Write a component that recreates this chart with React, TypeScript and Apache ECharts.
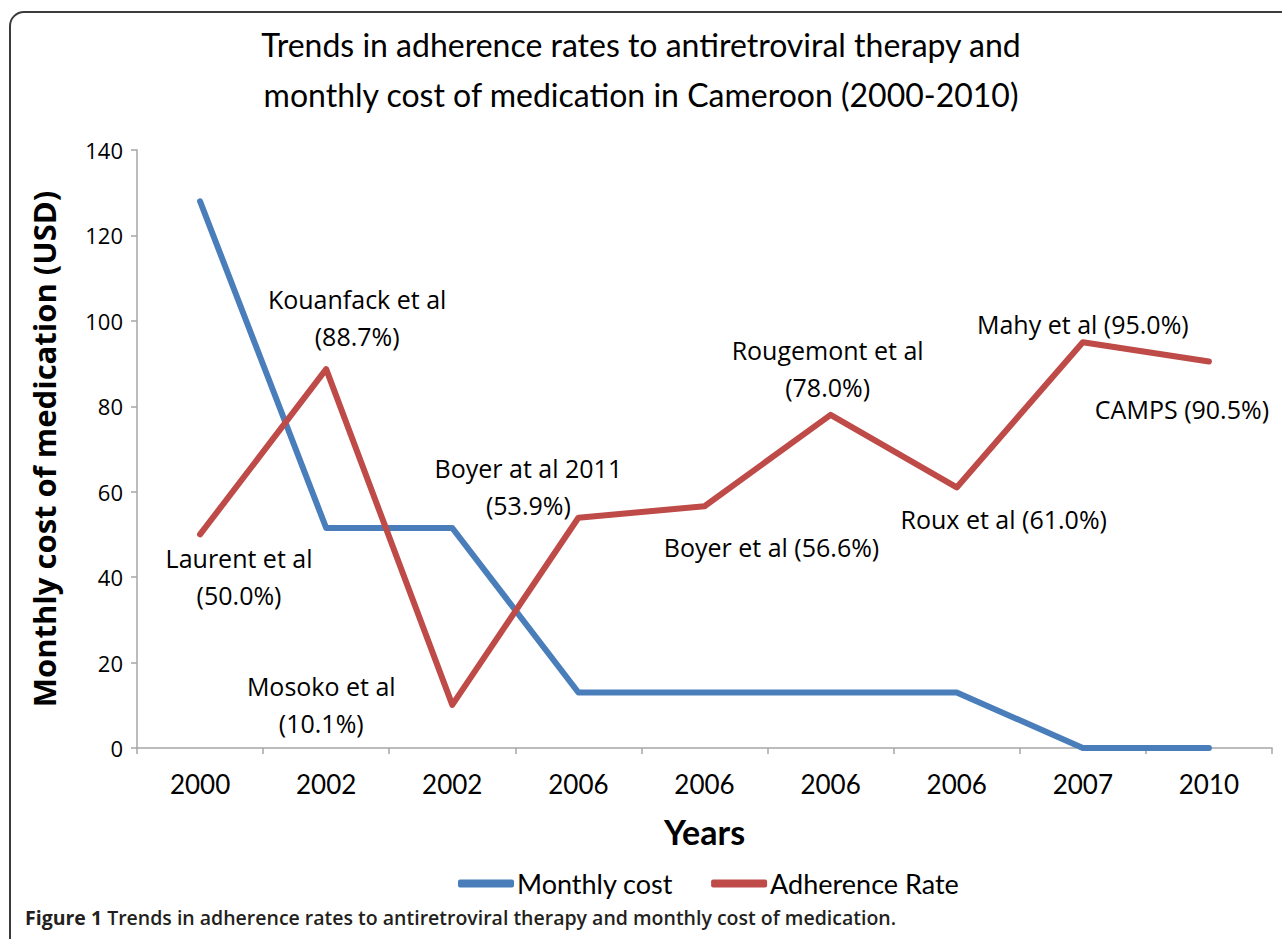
import React, { useEffect, useRef } from "react";
import * as echarts from "echarts";

const years = ["2000", "2002", "2002", "2006", "2006", "2006", "2006", "2007", "2010"];
const monthlyCost = [128, 51.5, 51.5, 13, 13, 13, 13, 0, 0];
const adherenceRate = [50.0, 88.7, 10.1, 53.9, 56.6, 78.0, 61.0, 95.0, 90.5];
const studyLabels = [
  "Laurent et al\n(50.0%)",
  "Kouanfack et al\n(88.7%)",
  "Mosoko et al\n(10.1%)",
  "Boyer at al 2011\n(53.9%)",
  "Boyer et al (56.6%)",
  "Rougemont et al\n(78.0%)",
  "Roux et al (61.0%)",
  "Mahy et al (95.0%)",
  "CAMPS (90.5%)",
];
const seriesNames = ["Monthly cost", "Adherence Rate"];
const titleText = "Trends in adherence rates to antiretroviral therapy and\nmonthly cost of medication in Cameroon (2000-2010)";
const yAxisName = "Monthly cost of medication (USD)";
const xAxisName = "Years";
const captionBold = "Figure 1";
const captionRest = " Trends in adherence rates to antiretroviral therapy and monthly cost of medication.";

// layout: label offsets (px) of each label's centre relative to its point
const labelOffsets: [number, number][] = [
  [39, 42],
  [31, -52],
  [-131, 0],
  [-50, -31],
  [67, 41],
  [-3, -46],
  [47, 32],
  [0, -18],
  [-27, 48],
];

const NARROW = "Lato, 'Open Sans', sans-serif";
const BODY = "'Open Sans', Lato, sans-serif";

export default function App() {
  const ref = useRef<HTMLDivElement>(null);
  useEffect(() => {
    if (!ref.current) return;
    const chart = echarts.init(ref.current, null, { renderer: "svg" });
    const axisGray = "#a6a6a6";
    chart.setOption({
      animation: false,
      backgroundColor: "#ffffff",
      title: {
        text: titleText,
        left: "center",
        top: 14,
        textStyle: {
          fontFamily: NARROW,
          fontSize: 32,
          lineHeight: 50,
          fontWeight: "normal",
          color: "#000",
        },
      },
      legend: {
        data: seriesNames,
        top: 865,
        left: 453,
        icon: "roundRect",
        itemWidth: 56,
        itemHeight: 8,
        itemGap: 38,
        textStyle: { fontFamily: NARROW, fontSize: 27, color: "#000", padding: [0, 0, 0, -2] },
      },
      grid: { left: 137, right: 10, top: 150, bottom: 191, containLabel: false },
      xAxis: {
        type: "category",
        data: years,
        boundaryGap: true,
        axisLine: { lineStyle: { color: axisGray, width: 1.5 } },
        axisTick: { show: true, length: 6, interval: 0, lineStyle: { color: axisGray, width: 1.5 } },
        axisLabel: { fontFamily: NARROW, fontSize: 26, color: "#000", margin: 23, interval: 0 },
        name: xAxisName,
        nameLocation: "middle",
        nameGap: 66,
        nameTextStyle: { fontFamily: NARROW, fontSize: 34, fontWeight: "bold", color: "#000" },
        splitLine: { show: false },
      },
      yAxis: {
        type: "value",
        min: 0,
        max: 140,
        interval: 20,
        axisLine: { show: true, lineStyle: { color: axisGray, width: 1.5 } },
        axisTick: { show: true, length: 6, lineStyle: { color: axisGray, width: 1.5 } },
        axisLabel: { fontFamily: BODY, fontSize: 22, color: "#000", margin: 14 },
        splitLine: { show: false },
        name: yAxisName,
        nameLocation: "middle",
        nameGap: 78,
        nameTextStyle: { fontFamily: BODY, fontSize: 31, fontWeight: "bold", color: "#000" },
      },
      series: [
        {
          name: seriesNames[0],
          type: "line",
          data: monthlyCost,
          showSymbol: false,
          symbol: "none",
          color: "#4a7ebb",
          lineStyle: { color: "#4a7ebb", width: 6, cap: "round", join: "round" },
        },
        {
          name: seriesNames[1],
          type: "line",
          data: adherenceRate.map((v, i) => ({
            value: v,
            label: {
              show: true,
              formatter: studyLabels[i],
              position: "inside",
              offset: labelOffsets[i],
              align: "center",
              verticalAlign: "middle",
            },
          })),
          showSymbol: true,
          symbol: "circle",
          symbolSize: 1,
          color: "#be4b48",
          itemStyle: { color: "#be4b48" },
          lineStyle: { color: "#be4b48", width: 6, cap: "round", join: "round" },
          label: {
            show: true,
            fontFamily: BODY,
            fontSize: 25,
            lineHeight: 37,
            color: "#000",
          },
        },
      ],
      graphic: [
        {
          type: "rect",
          shape: { x: 10, y: 12, width: 1400, height: 1100, r: 14 },
          style: { fill: "none", stroke: "#3c3c3c", lineWidth: 2 },
          silent: true,
        },
        {
          type: "text",
          left: 25,
          top: 907,
          style: {
            text: "{b|" + captionBold + "}{r|" + captionRest + "}",
            rich: {
              b: { fontFamily: BODY, fontSize: 19.5, fontWeight: "bold", fill: "#231f20" },
              r: { fontFamily: BODY, fontSize: 19.5, fontWeight: 600, fill: "#231f20" },
            },
          },
        },
      ],
    });
    return () => chart.dispose();
  }, []);
  return (
    <div
      ref={ref}
      style={{ position: "absolute", left: 0, top: 0, width: 1282, height: 939, background: "#fff" }}
    />
  );
}
